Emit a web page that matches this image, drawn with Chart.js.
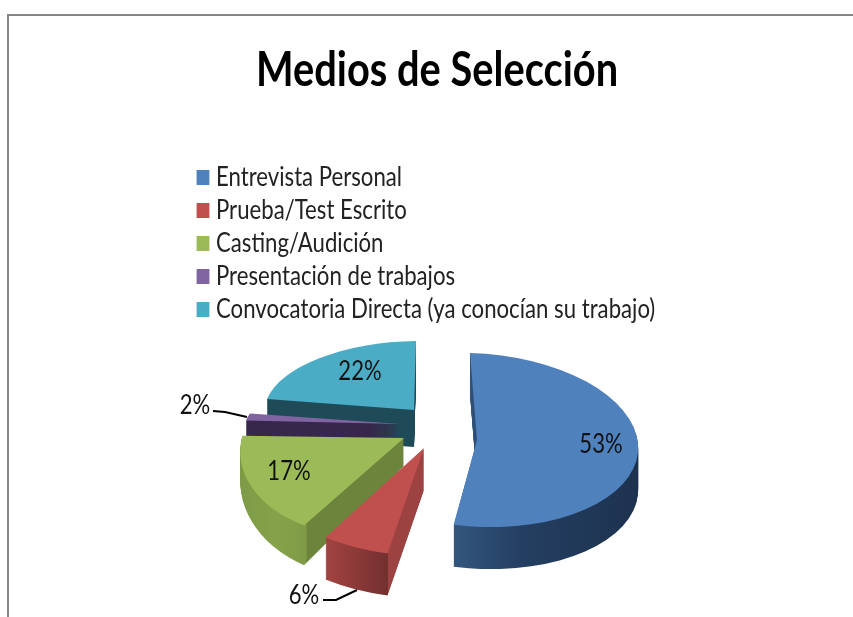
<!DOCTYPE html>
<html><head><meta charset="utf-8">
<script src="https://cdn.jsdelivr.net/npm/chart.js@4"></script>
<style>html,body{margin:0;padding:0;background:#fff}canvas{display:block}</style>
</head><body><canvas id="c" width="853" height="617"></canvas>
<script>
const categories = ['Entrevista Personal','Prueba/Test Escrito','Casting/Audición','Presentación de trabajos','Convocatoria Directa (ya conocían su trabajo)'];
const values = [53,6,17,2,22];
const chartTitle = 'Medios de Selección';
const colors = ['#4f81bd','#c0504d','#9bbb59','#8064a2','#4bacc6'];

// Presentation of the tilted, exploded 3D pie (style only)
const sliceView = [
  {ex:477,ey:440,a:161,b:7,c:4,d:87,depth:42,grow:0,wall:[[452,'#34577f'],[520,'#243f62'],[637,'#1d324f']]},
  {ex:424,ey:448,a:179,b:-3,c:3,d:108,depth:42,grow:0,wall:[[326,'#a34341'],[388,'#72302f'],[388.5,'#9c4240'],[424,'#9c4240']]},
  {ex:404,ey:438,a:163,b:-15,c:-4,d:101,depth:28,grow:.5,wall:[[241,'#7d9a45'],[275,'#86a34b'],[306,'#7f9b47'],[307,'#6d843c'],[404,'#6d843c']]},
  {ex:400,ey:424,a:155,b:-12,c:0,d:56,depth:30,grow:0,wall:[[240,'#37274a'],[410,'#37274a']]},
  {ex:414,ey:410,a:150,b:-2,c:-2,d:69,depth:37,grow:0,wall:[[260,'#1f4a57'],[420,'#1f4a57']]}
];
const drawOrder = [4,3,2,1,0];
const labelPos = [[601,445],[304,596],[289,472],[195,406],[360,372]];
const leaders = [[[213,411],[225,412],[247,417]],[[323,600],[336,600],[357,590]]];

function squeeze(box, ctx, ox, k){
  const d = box.draw.bind(box);
  box.draw = function(){
    ctx.save(); ctx.translate(ox,0); ctx.scale(k,1); ctx.translate(-ox,0);
    d();
    ctx.restore();
  };
}

const pie3d = {
  id:'pie3d',
  afterLayout(chart){
    const l = chart.legend, h = l.bottom-l.top;
    l.left = 193.75; l.right = 853; l.top = 157.5; l.bottom = l.top+h;
    if (l.adjustHitBoxes) l.adjustHitBoxes();
    if (!l._sq){ l._sq = true; squeeze(l, chart.ctx, 203, .853); squeeze(chart.titleBlock, chart.ctx, 437.5, .847); }
  },
  beforeDraw(chart){
    const ctx = chart.ctx;
    ctx.save();
    ctx.strokeStyle = '#868686'; ctx.lineWidth = 2;
    ctx.beginPath(); ctx.moveTo(8,617); ctx.lineTo(8,15); ctx.lineTo(853,15); ctx.stroke();
    ctx.restore();
  },
  beforeDatasetDraw(){ return false; },
  afterDatasetsDraw(chart){
    const ctx = chart.ctx, meta = chart.getDatasetMeta(0);
    const paint = (el,v,t,fill) => {
      const R = el.outerRadius, o = el.options;
      ctx.save();
      ctx.translate(v.ex, v.ey+t);
      ctx.transform(v.a/R, v.c/R, v.b/R, (v.d+v.grow*t)/R, 0, 0);
      ctx.translate(-el.x,-el.y);
      el.options = Object.assign({}, o, {backgroundColor:fill, borderWidth:0, offset:0, spacing:0});
      el.draw(ctx);
      el.options = o;
      ctx.restore();
    };
    drawOrder.forEach(i => {
      const el = meta.data[i], v = sliceView[i], R = el.outerRadius;
      const n = v.a*v.a + v.b*v.b;
      const loc = X => { const s = (X-v.ex)/n; return [el.x+R*v.a*s, el.y+R*v.b*s]; };
      const x0 = v.wall[0][0], x1 = v.wall[v.wall.length-1][0];
      const p0 = loc(x0), p1 = loc(x1);
      const g = ctx.createLinearGradient(p0[0],p0[1],p1[0],p1[1]);
      v.wall.forEach(s => g.addColorStop((s[0]-x0)/(x1-x0), s[1]));
      for (let t=v.depth; t>=1; t--) paint(el,v,t,g);
      paint(el,v,0,colors[i]);
    });
    ctx.save();
    ctx.strokeStyle = '#000'; ctx.lineWidth = 2;
    leaders.forEach(p => { ctx.beginPath(); p.forEach((q,k)=> k?ctx.lineTo(q[0],q[1]):ctx.moveTo(q[0],q[1])); ctx.stroke(); });
    ctx.fillStyle = '#111'; ctx.font = '26px Lato'; ctx.textAlign='center'; ctx.textBaseline='middle';
    values.forEach((val,i)=> {
      ctx.save(); ctx.translate(labelPos[i][0],labelPos[i][1]); ctx.scale(.85,1);
      ctx.fillText(val+'%',0,0);
      ctx.restore();
    });
    ctx.restore();
  }
};

new Chart(document.getElementById('c'),{
  type:'pie',
  data:{labels:categories,datasets:[{data:values,backgroundColor:colors,borderWidth:0}]},
  options:{
    responsive:false,animation:false,
    layout:{padding:{left:21}},
    plugins:{
      tooltip:{enabled:false},
      title:{display:true,text:chartTitle,color:'#000',font:{family:'Lato',size:47,weight:'bold'},padding:{top:43,bottom:20}},
      legend:{position:'left',align:'start',maxWidth:520,
        labels:{font:{family:'Lato',size:26},color:'#222',usePointStyle:true,pointStyle:'rect',boxWidth:4.5,boxHeight:15,padding:7}}
    }
  },
  plugins:[pie3d]
});
</script></body></html>
